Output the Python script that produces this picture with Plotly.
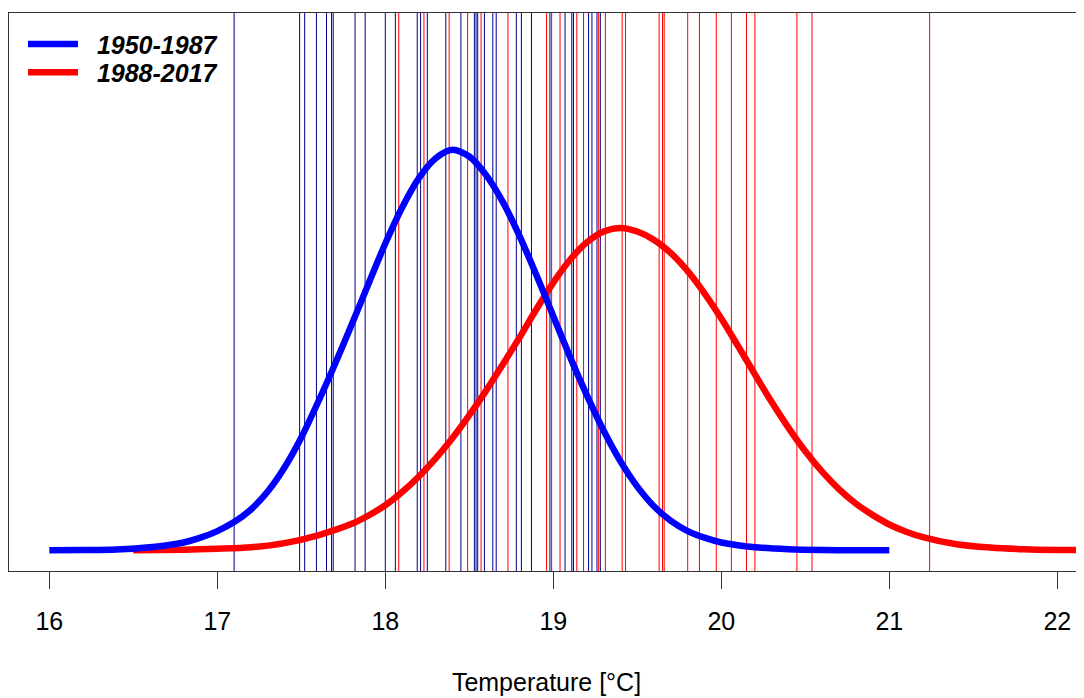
import plotly.graph_objects as go

# ---- data ----
# yearly mean temperatures (vertical lines)
temps_1950_1987 = [17.10, 17.49, 17.52, 17.59, 17.65, 17.68, 17.69, 17.82, 17.88,
                   18.00, 18.06, 18.19, 18.21, 18.25, 18.36, 18.45, 18.53, 18.54,
                   18.55, 18.59, 18.64, 18.66, 18.78, 18.81, 18.87, 18.98, 19.07,
                   19.11, 19.12, 19.21, 19.23, 19.26, 19.28]
temps_1988_2017 = [18.08, 18.23, 18.38, 18.49, 18.57, 18.73, 18.96, 18.99, 19.04,
                   19.14, 19.18, 19.27, 19.31, 19.41, 19.43, 19.63, 19.65, 19.66,
                   19.80, 19.87, 19.97, 20.06, 20.15, 20.20, 20.45, 20.54, 21.24]

# density curves
blue_x = [16.0, 16.2, 16.4, 16.6, 16.8, 16.9, 17.0, 17.1, 17.2, 17.3, 17.4, 17.5,
          17.6, 17.7, 17.8, 17.9, 18.0, 18.1, 18.2, 18.3, 18.4, 18.5, 18.6, 18.7,
          18.8, 18.9, 19.0, 19.1, 19.2, 19.3, 19.4, 19.5, 19.6, 19.7, 19.8, 19.9,
          20.0, 20.2, 20.4, 20.6, 20.8, 21.0]
blue_y = [0.000, 0.0005, 0.0015, 0.005, 0.013, 0.021, 0.032, 0.047, 0.068, 0.098,
          0.138, 0.188, 0.247, 0.310, 0.376, 0.444, 0.511, 0.571, 0.620, 0.653,
          0.667, 0.656, 0.625, 0.580, 0.523, 0.458, 0.390, 0.322, 0.258, 0.199,
          0.148, 0.106, 0.073, 0.049, 0.032, 0.021, 0.013, 0.005, 0.0018, 0.0005,
          0.0001, 0.000]
red_x = [16.5, 16.8, 17.0, 17.2, 17.4, 17.6, 17.8, 17.9, 18.0, 18.1, 18.2, 18.3,
         18.4, 18.5, 18.6, 18.7, 18.8, 18.9, 19.0, 19.1, 19.2, 19.3, 19.4, 19.5,
         19.6, 19.7, 19.8, 19.9, 20.0, 20.1, 20.2, 20.3, 20.4, 20.5, 20.6, 20.7,
         20.8, 20.9, 21.0, 21.1, 21.2, 21.4, 21.6, 21.8, 22.0, 22.3]
red_y = [0.000, 0.001, 0.0025, 0.005, 0.012, 0.025, 0.044, 0.058, 0.075, 0.097,
         0.123, 0.153, 0.187, 0.225, 0.266, 0.310, 0.355, 0.402, 0.446, 0.484,
         0.513, 0.531, 0.537, 0.531, 0.517, 0.495, 0.465, 0.428, 0.386, 0.340,
         0.293, 0.247, 0.204, 0.165, 0.131, 0.102, 0.078, 0.059, 0.043, 0.031,
         0.022, 0.010, 0.0045, 0.0017, 0.0005, 0.000]

x_ticks = [16, 17, 18, 19, 20, 21, 22]
series_names = ["1950-1987", "1988-2017"]
x_title = "Temperature [°C]"

FONT = "Liberation Sans, Arial, sans-serif"


def vlines(vals):
    xs, ys = [], []
    for v in vals:
        xs += [v, v, None]
        ys += [-0.1, 1.0, None]
    return xs, ys


fig = go.Figure()

bx, by = vlines(temps_1950_1987)
fig.add_trace(go.Scatter(x=bx, y=by, mode="lines", line=dict(color="#00008B", width=1),
                         showlegend=False, hoverinfo="skip"))
rx, ry = vlines(temps_1988_2017)
fig.add_trace(go.Scatter(x=rx, y=ry, mode="lines", line=dict(color="#ff0000", width=1),
                         showlegend=False, hoverinfo="skip"))

fig.add_trace(go.Scatter(x=red_x, y=red_y, mode="lines",
                         line=dict(color="#ff0000", width=6.5, shape="spline", smoothing=0.8),
                         name="&nbsp;&nbsp;<b><i>%s</i></b>" % series_names[1], legend="legend2"))
fig.add_trace(go.Scatter(x=blue_x, y=blue_y, mode="lines",
                         line=dict(color="#0000ff", width=6.5, shape="spline", smoothing=0.8),
                         name="&nbsp;&nbsp;<b><i>%s</i></b>" % series_names[0], legend="legend"))

legend_common = dict(xanchor="left", yanchor="top", bgcolor="rgba(0,0,0,0)", borderwidth=0,
                     font=dict(family=FONT, size=25, color="black"), itemwidth=50)

fig.update_layout(
    width=1076, height=690,
    margin=dict(l=1, r=0, t=5, b=127),
    paper_bgcolor="white", plot_bgcolor="white",
    font=dict(family=FONT, size=25, color="black"),
    showlegend=True,
    legend=dict(x=0.0130, y=0.985, **legend_common),
    legend2=dict(x=0.0130, y=0.9345, **legend_common),
    xaxis=dict(range=[15.760, 22.159], tickvals=x_ticks, ticktext=[str(t) for t in x_ticks],
               showgrid=False, zeroline=False, showline=True, linecolor="#333333", linewidth=1,
               mirror=True, ticks="outside", ticklen=17, tickwidth=1, tickcolor="#333333",
               tickfont=dict(family=FONT, size=25, color="black"), ticklabelstandoff=11,
               title=dict(text=x_title, font=dict(family=FONT, size=25, color="black"), standoff=39)),
    yaxis=dict(range=[-0.0345, 0.895], showgrid=False, zeroline=False, showline=True,
               linecolor="#333333", linewidth=1, mirror=False, showticklabels=False, ticks=""),
)

fig.write_html("out.html")
